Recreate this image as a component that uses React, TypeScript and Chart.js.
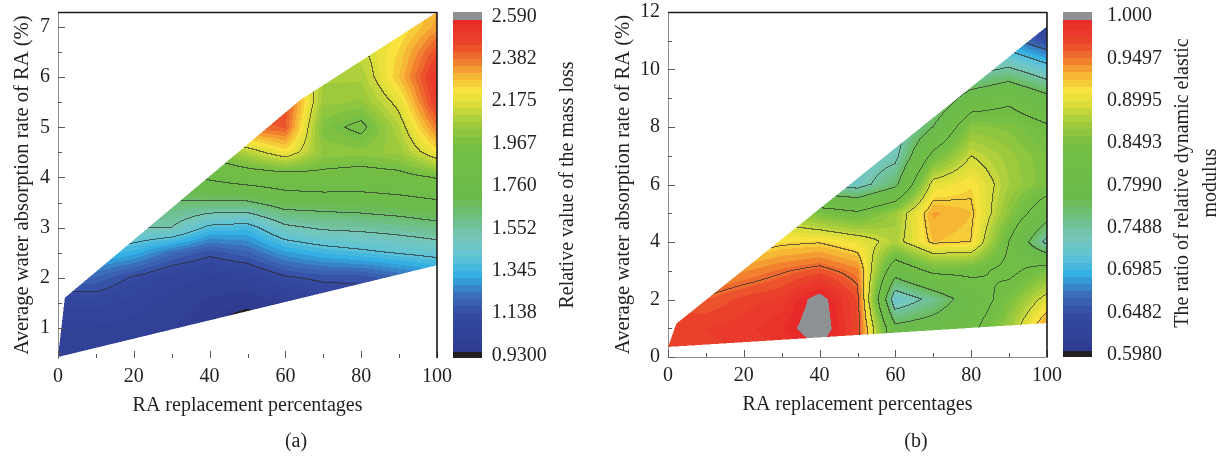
import React, { useEffect, useRef } from "react";
import { Chart, registerables } from "chart.js";

Chart.register(...registerables);

const FONT_FAMILY = "'Liberation Serif', 'Times New Roman', serif";
const TEXT_COLOR = "#231f20";
const FONT_SIZE = 20;

// ---------- shared colour scale (fraction of colour-bar range -> colour) ----------
const colorStopPos = [0, 0.12, 0.18, 0.235, 0.29, 0.34, 0.4, 0.46, 0.62, 0.69, 0.74, 0.78, 0.83, 0.87, 0.92, 1];
const colorStopHex = ["#2d3a8e", "#3549a3", "#3b6fba", "#30aee5", "#5fc3d6", "#74c6bd", "#6ebf88", "#6abb4c", "#74bf44", "#a6cd3c", "#dbdd3a", "#f7e33e", "#f6b034", "#f07a2e", "#ea442b", "#e8262a"];

// ---------- panel (a): relative value of the mass loss ----------
const replacementA = [0, 10, 20, 30, 40, 50, 60, 70, 80, 90, 100];
const absorptionA = [0.5, 1, 1.5, 2, 2.5, 3, 3.5, 4, 4.5, 5, 5.5, 6, 6.5, 7, 7.5];
const massLossA = [
  [1.02, 1.01, 1.0, 0.99, 0.98, 0.95, 0.97, 0.99, 1.0, 1.05, 1.1],
  [1.03, 1.03, 1.02, 1.0, 0.97, 0.8, 0.95, 1.0, 1.02, 1.08, 1.12],
  [1.08, 1.08, 1.05, 1.02, 0.99, 0.97, 0.99, 1.05, 1.08, 1.1, 1.15],
  [1.2, 1.2, 1.12, 1.05, 1.03, 1.04, 1.12, 1.15, 1.15, 1.2, 1.25],
  [1.3, 1.38, 1.33, 1.22, 1.15, 1.2, 1.3, 1.35, 1.38, 1.41, 1.44],
  [1.45, 1.5, 1.52, 1.52, 1.38, 1.36, 1.5, 1.54, 1.55, 1.57, 1.6],
  [1.55, 1.6, 1.62, 1.63, 1.63, 1.63, 1.7, 1.7, 1.71, 1.73, 1.76],
  [1.6, 1.65, 1.7, 1.75, 1.8, 1.85, 1.87, 1.9, 1.88, 1.9, 1.95],
  [1.65, 1.7, 1.75, 1.82, 1.98, 2.1, 2.22, 2.03, 2.02, 2.05, 2.22],
  [1.7, 1.75, 1.8, 1.88, 2.15, 2.4, 2.42, 1.98, 1.91, 2.1, 2.38],
  [1.75, 1.8, 1.85, 1.95, 2.25, 2.45, 2.45, 2.05, 2.03, 2.18, 2.5],
  [1.8, 1.85, 1.9, 2.0, 2.3, 2.4, 2.35, 2.08, 2.08, 2.28, 2.53],
  [1.85, 1.9, 1.95, 2.05, 2.3, 2.3, 2.25, 2.1, 2.13, 2.25, 2.45],
  [1.9, 1.95, 2.0, 2.1, 2.3, 2.3, 2.2, 2.1, 2.15, 2.2, 2.33],
  [1.95, 2.0, 2.05, 2.15, 2.3, 2.3, 2.2, 2.1, 2.15, 2.2, 2.3],
];
const domainXA = [0, 100, 100, 64, 1.8];
const domainYA = [0.42, 2.25, 7.3, 5.55, 1.6];
const contourLevelsA = [1.13, 1.4, 1.52, 1.64, 1.78, 1.94, 2.15];
const colorbarTicksA = [0.93, 1.138, 1.345, 1.552, 1.76, 1.967, 2.175, 2.382, 2.59];
const colorbarLabelsA = ["0.9300", "1.138", "1.345", "1.552", "1.760", "1.967", "2.175", "2.382", "2.590"];
const xTicksMajor = [0, 20, 40, 60, 80, 100];
const xTicksMinor = [10, 30, 50, 70, 90];
const yTicksMajorA = [1, 2, 3, 4, 5, 6, 7];
const yTicksMinorA = [0.5, 1.5, 2.5, 3.5, 4.5, 5.5, 6.5];

// ---------- panel (b): ratio of relative dynamic elastic modulus ----------
const replacementB = [0, 10, 20, 30, 40, 50, 60, 70, 80, 90, 100];
const absorptionB = [0, 1, 2, 3, 4, 5, 6, 7, 8, 9, 10, 11, 12];
const modulusB = [
  [0.97, 0.97, 0.975, 0.98, 0.99, 0.965, 0.8, 0.8, 0.83, 0.87, 0.95],
  [0.975, 0.975, 0.98, 0.99, 1.015, 0.968, 0.79, 0.8, 0.82, 0.87, 0.945],
  [0.96, 0.958, 0.97, 0.978, 1.01, 0.965, 0.72, 0.755, 0.8, 0.85, 0.9],
  [0.93, 0.93, 0.94, 0.952, 0.962, 0.945, 0.8, 0.84, 0.84, 0.82, 0.85],
  [0.9, 0.9, 0.905, 0.915, 0.918, 0.905, 0.88, 0.925, 0.92, 0.83, 0.735],
  [0.87, 0.87, 0.87, 0.875, 0.85, 0.835, 0.87, 0.935, 0.925, 0.86, 0.8],
  [0.84, 0.84, 0.82, 0.8, 0.74, 0.73, 0.77, 0.9, 0.915, 0.875, 0.85],
  [0.8, 0.8, 0.79, 0.77, 0.73, 0.725, 0.735, 0.84, 0.89, 0.87, 0.85],
  [0.78, 0.78, 0.77, 0.75, 0.725, 0.725, 0.725, 0.78, 0.86, 0.855, 0.835],
  [0.76, 0.76, 0.75, 0.74, 0.725, 0.725, 0.725, 0.74, 0.8, 0.82, 0.79],
  [0.75, 0.75, 0.74, 0.73, 0.72, 0.72, 0.72, 0.725, 0.73, 0.75, 0.72],
  [0.74, 0.74, 0.73, 0.72, 0.72, 0.72, 0.72, 0.72, 0.7, 0.68, 0.645],
  [0.73, 0.73, 0.72, 0.72, 0.71, 0.71, 0.71, 0.71, 0.68, 0.65, 0.6],
];
const domainXB = [0, 100, 100, 2.2, 0.3];
const domainYB = [0.35, 1.18, 11.5, 1.16, 0.45];
const contourLevelsB = [0.67, 0.705, 0.745, 0.78, 0.83, 0.89, 0.92, 0.955];
const colorbarTicksB = [0.598, 0.6482, 0.6985, 0.7488, 0.799, 0.8493, 0.8995, 0.9497, 1.0];
const colorbarLabelsB = ["0.5980", "0.6482", "0.6985", "0.7488", "0.7990", "0.8493", "0.8995", "0.9497", "1.000"];
const yTicksMajorB = [0, 2, 4, 6, 8, 10, 12];
const yTicksMinorB = [1, 3, 5, 7, 9, 11];

type PanelCfg = {
  gx: number[]; gy: number[]; rows: number[][];
  domX: number[]; domY: number[];
  lo: number; hi: number; levels: number[];
  yMin: number; yMax: number; cbMin: number; cbMax: number;
  yMajor: number[]; yMinor: number[];
  cbTicks: number[]; cbLabels: string[];
  yTitle: string; cbTitle: string[]; tag: string;
  leftW: number; rightW: number; bottomH: number;
  yTitlePad: number; xTitlePad: number; cbPad: number;
  cbTitleX: number[]; cbTitleY: number; tagX: number; tagY: number;
  bottomBorder: boolean;
};

function hexToRgb(h: string): number[] {
  return [parseInt(h.slice(1, 3), 16), parseInt(h.slice(3, 5), 16), parseInt(h.slice(5, 7), 16)];
}
const stopRgb = colorStopHex.map(hexToRgb);
function colormap(t: number): number[] {
  if (t <= 0) return stopRgb[0];
  if (t >= 1) return stopRgb[stopRgb.length - 1];
  let k = 0;
  while (k < colorStopPos.length - 2 && t > colorStopPos[k + 1]) k++;
  const f = (t - colorStopPos[k]) / (colorStopPos[k + 1] - colorStopPos[k]);
  const a = stopRgb[k], b = stopRgb[k + 1];
  return [a[0] + (b[0] - a[0]) * f, a[1] + (b[1] - a[1]) * f, a[2] + (b[2] - a[2]) * f];
}
const BANDS = 48;
const LUT: number[][] = [];
for (let b = 0; b < BANDS; b++) LUT.push(colormap((b + 0.5) / BANDS).map(Math.round));
const OVER = [142, 145, 148];
const UNDER = [35, 31, 32];

function colorFor(v: number, lo: number, hi: number): number[] {
  if (v > hi) return OVER;
  if (v < lo) return UNDER;
  const b = Math.min(BANDS - 1, Math.max(0, Math.floor(((v - lo) / (hi - lo)) * BANDS)));
  return LUT[b];
}

function insidePoly(px: number[], py: number[], x: number, y: number): boolean {
  let c = false;
  for (let i = 0, j = px.length - 1; i < px.length; j = i++) {
    if ((py[i] > y) !== (py[j] > y) && x < ((px[j] - px[i]) * (y - py[i])) / (py[j] - py[i]) + px[i]) c = !c;
  }
  return c;
}

function sampleGrid(cfg: PanelCfg, x: number, y: number): number {
  const { gx, gy, rows } = cfg;
  let i = 0;
  while (i < gx.length - 2 && x > gx[i + 1]) i++;
  let j = 0;
  while (j < gy.length - 2 && y > gy[j + 1]) j++;
  const tx = Math.min(1, Math.max(0, (x - gx[i]) / (gx[i + 1] - gx[i])));
  const ty = Math.min(1, Math.max(0, (y - gy[j]) / (gy[j + 1] - gy[j])));
  const v00 = rows[j][i], v10 = rows[j][i + 1], v01 = rows[j + 1][i], v11 = rows[j + 1][i + 1];
  return (v00 * (1 - tx) + v10 * tx) * (1 - ty) + (v01 * (1 - tx) + v11 * tx) * ty;
}

function makeFieldPlugin(cfg: PanelCfg) {
  return {
    id: "contourField",
    beforeDatasetsDraw(chart: any) {
      const a = chart.chartArea;
      const xs = chart.scales.x, ys = chart.scales.y;
      const L = Math.round(a.left), T = Math.round(a.top);
      const W = Math.round(a.right) - L, H = Math.round(a.bottom) - T;
      const off = document.createElement("canvas");
      off.width = W; off.height = H;
      const octx = off.getContext("2d")!;
      const img = octx.createImageData(W, H);
      const N = W * H;
      const vals = new Float32Array(N), cov = new Float32Array(N), lvl = new Int16Array(N);
      const cx = new Float64Array(W), cy = new Float64Array(H);
      const sx = new Float64Array(W * 2), sy = new Float64Array(H * 2);
      for (let i = 0; i < W; i++) {
        cx[i] = xs.getValueForPixel(L + i + 0.5);
        sx[2 * i] = xs.getValueForPixel(L + i + 0.25);
        sx[2 * i + 1] = xs.getValueForPixel(L + i + 0.75);
      }
      for (let j = 0; j < H; j++) {
        cy[j] = ys.getValueForPixel(T + j + 0.5);
        sy[2 * j] = ys.getValueForPixel(T + j + 0.25);
        sy[2 * j + 1] = ys.getValueForPixel(T + j + 0.75);
      }
      for (let j = 0; j < H; j++) {
        for (let i = 0; i < W; i++) {
          let c = 0;
          for (let s = 0; s < 2; s++)
            for (let t = 0; t < 2; t++)
              if (insidePoly(cfg.domX, cfg.domY, sx[2 * i + s], sy[2 * j + t])) c++;
          const k = j * W + i;
          cov[k] = c / 4;
          if (c === 0) continue;
          const v = sampleGrid(cfg, cx[i], cy[j]);
          vals[k] = v;
          let n = 0;
          for (const lv of cfg.levels) if (v >= lv) n++;
          lvl[k] = n;
        }
      }
      const d = img.data;
      for (let j = 0; j < H; j++) {
        for (let i = 0; i < W; i++) {
          const k = j * W + i;
          if (cov[k] === 0) continue;
          const col = colorFor(vals[k], cfg.lo, cfg.hi);
          const line =
            (i < W - 1 && cov[k + 1] > 0 && lvl[k + 1] !== lvl[k]) ||
            (j < H - 1 && cov[k + W] > 0 && lvl[k + W] !== lvl[k]);
          let r = col[0], g = col[1], b = col[2];
          if (line) {
            const al = 0.7;
            r = r * (1 - al) + 45 * al; g = g * (1 - al) + 48 * al; b = b * (1 - al) + 45 * al;
          }
          d[4 * k] = r; d[4 * k + 1] = g; d[4 * k + 2] = b; d[4 * k + 3] = Math.round(cov[k] * 255);
        }
      }
      octx.putImageData(img, 0, 0);
      chart.ctx.drawImage(off, L, T);
    },
  };
}

function makeFramePlugin(cfg: PanelCfg) {
  return {
    id: "frameAndColorbar",
    afterDraw(chart: any) {
      const ctx: CanvasRenderingContext2D = chart.ctx;
      const a = chart.chartArea;
      const xs = chart.scales.x, ys = chart.scales.y, cb = chart.scales.cb;
      ctx.save();
      // inward ticks
      ctx.strokeStyle = "#5a5a5a";
      ctx.lineWidth = 1;
      ctx.beginPath();
      const tickX = (vals: number[], len: number) => {
        for (const v of vals) {
          const p = Math.round(xs.getPixelForValue(v)) + 0.5;
          ctx.moveTo(p, a.bottom); ctx.lineTo(p, a.bottom - len);
        }
      };
      const tickY = (vals: number[], len: number) => {
        for (const v of vals) {
          const p = Math.round(ys.getPixelForValue(v)) + 0.5;
          ctx.moveTo(a.left, p); ctx.lineTo(a.left + len, p);
        }
      };
      tickX(xTicksMajor, 7); tickX(xTicksMinor, 4);
      tickY(cfg.yMajor, 7); tickY(cfg.yMinor, 4);
      ctx.stroke();
      // top and right frame
      ctx.strokeStyle = "#1a1a1a";
      ctx.lineWidth = 1.6;
      ctx.beginPath();
      ctx.moveTo(a.left, a.top + 0.5); ctx.lineTo(a.right, a.top + 0.5);
      ctx.moveTo(a.right, a.top); ctx.lineTo(a.right, a.bottom);
      ctx.stroke();
      // colour bar
      const x0 = Math.round(a.right + 16);
      const bw = 29;
      const capV = (cfg.hi - cfg.lo) * 0.011;
      for (let y = Math.round(a.top); y < Math.round(a.bottom); y++) {
        const v = cb.getValueForPixel(y + 0.5);
        let col: number[];
        if (v > cfg.hi - capV) col = OVER;
        else if (v < cfg.lo + capV) col = UNDER;
        else col = colorFor(v, cfg.lo, cfg.hi);
        ctx.fillStyle = `rgb(${col[0]},${col[1]},${col[2]})`;
        ctx.fillRect(x0, y, bw, 1);
      }
      // colour-bar title
      ctx.fillStyle = TEXT_COLOR;
      ctx.font = `${FONT_SIZE}px ${FONT_FAMILY}`;
      ctx.textAlign = "center";
      ctx.textBaseline = "middle";
      cfg.cbTitle.forEach((line, i) => {
        ctx.save();
        ctx.translate(cfg.cbTitleX[i], cfg.cbTitleY);
        ctx.rotate(-Math.PI / 2);
        ctx.fillText(line, 0, 0);
        ctx.restore();
      });
      // panel tag
      ctx.fillText(cfg.tag, cfg.tagX, cfg.tagY);
      ctx.restore();
    },
  };
}

function PanelChart({ cfg }: { cfg: PanelCfg }) {
  const ref = useRef<HTMLCanvasElement>(null);
  useEffect(() => {
    const canvas = ref.current!;
    const font = { family: FONT_FAMILY, size: FONT_SIZE };
    const noPad = (s: any) => { s.paddingTop = 0; s.paddingBottom = 0; };
    const chart = new Chart(canvas, {
      type: "scatter",
      data: { datasets: [] },
      options: {
        animation: false,
        responsive: false,
        maintainAspectRatio: false,
        layout: { padding: { top: 12, left: 0, right: 0, bottom: 0 } },
        plugins: { legend: { display: false }, tooltip: { enabled: false } },
        scales: {
          x: {
            type: "linear",
            position: "bottom",
            min: 0,
            max: 100,
            afterBuildTicks: (s: any) => { s.ticks = xTicksMajor.map((v) => ({ value: v })); },
            afterFit: (s: any) => { s.height = cfg.bottomH; s.paddingLeft = 0; s.paddingRight = 0; },
            grid: { display: false, drawTicks: false },
            border: { display: cfg.bottomBorder, color: "#8c8c8c", width: 1 },
            ticks: { padding: 7, font, color: TEXT_COLOR, autoSkip: false, maxRotation: 0, callback: (v: any) => String(v) },
            title: { display: true, text: "RA replacement percentages", font, color: TEXT_COLOR, padding: { top: 0, bottom: cfg.xTitlePad } },
          },
          y: {
            type: "linear",
            position: "left",
            min: cfg.yMin,
            max: cfg.yMax,
            afterBuildTicks: (s: any) => { s.ticks = cfg.yMajor.map((v) => ({ value: v })); },
            afterFit: (s: any) => { s.width = cfg.leftW; noPad(s); },
            grid: { display: false, drawTicks: false },
            border: { display: true, color: "#8c8c8c", width: 1 },
            ticks: { padding: 8, font, color: TEXT_COLOR, autoSkip: false, callback: (v: any) => String(v) },
            title: { display: true, text: cfg.yTitle, font: { family: FONT_FAMILY, size: 20.6 }, color: TEXT_COLOR, padding: { top: cfg.yTitlePad, bottom: 0 } },
          },
          cb: {
            type: "linear",
            position: "right",
            min: cfg.cbMin,
            max: cfg.cbMax,
            afterBuildTicks: (s: any) => { s.ticks = cfg.cbTicks.map((v) => ({ value: v })); },
            afterFit: (s: any) => { s.width = cfg.rightW; noPad(s); },
            grid: { display: false, drawTicks: false },
            border: { display: false },
            ticks: { padding: cfg.cbPad, font, color: TEXT_COLOR, autoSkip: false, callback: (_v: any, i: number) => cfg.cbLabels[i] },
          },
        },
      } as any,
      plugins: [makeFieldPlugin(cfg), makeFramePlugin(cfg)],
    });
    return () => chart.destroy();
  }, [cfg]);
  return <canvas ref={ref} width={611} height={456} style={{ display: "block", width: 611, height: 456 }} />;
}

const panelA: PanelCfg = {
  gx: replacementA, gy: absorptionA, rows: massLossA,
  domX: domainXA, domY: domainYA,
  lo: 0.93, hi: 2.59, levels: contourLevelsA,
  yMin: 0.4, yMax: 7.3, cbMin: 0.9178, cbMax: 2.612,
  yMajor: yTicksMajorA, yMinor: yTicksMinorA,
  cbTicks: colorbarTicksA, cbLabels: colorbarLabelsA,
  yTitle: "Average water absorption rate of RA (%)",
  cbTitle: ["Relative value of the mass loss"], tag: "(a)",
  leftW: 58, rightW: 174, bottomH: 98,
  yTitlePad: 10, xTitlePad: 38, cbPad: 54.7,
  cbTitleX: [568], cbTitleY: 185, tagX: 296, tagY: 442,
  bottomBorder: false,
};

const panelB: PanelCfg = {
  gx: replacementB, gy: absorptionB, rows: modulusB,
  domX: domainXB, domY: domainYB,
  lo: 0.598, hi: 1.0, levels: contourLevelsB,
  yMin: 0, yMax: 12, cbMin: 0.5956, cbMax: 1.0047,
  yMajor: yTicksMajorB, yMinor: yTicksMinorB,
  cbTicks: colorbarTicksB, cbLabels: colorbarLabelsB,
  yTitle: "Average water absorption rate of RA (%)",
  cbTitle: ["The ratio of relative dynamic elastic", "modulus"], tag: "(b)",
  leftW: 57, rightW: 175, bottomH: 99,
  yTitlePad: 0, xTitlePad: 39, cbPad: 60,
  cbTitleX: [572, 600], cbTitleY: 183, tagX: 305, tagY: 442,
  bottomBorder: true,
};

export default function App() {
  return (
    <div style={{ position: "absolute", left: 0, top: 0, width: 1222, height: 456, display: "flex", background: "#fff" }}>
      <PanelChart cfg={panelA} />
      <PanelChart cfg={panelB} />
    </div>
  );
}
